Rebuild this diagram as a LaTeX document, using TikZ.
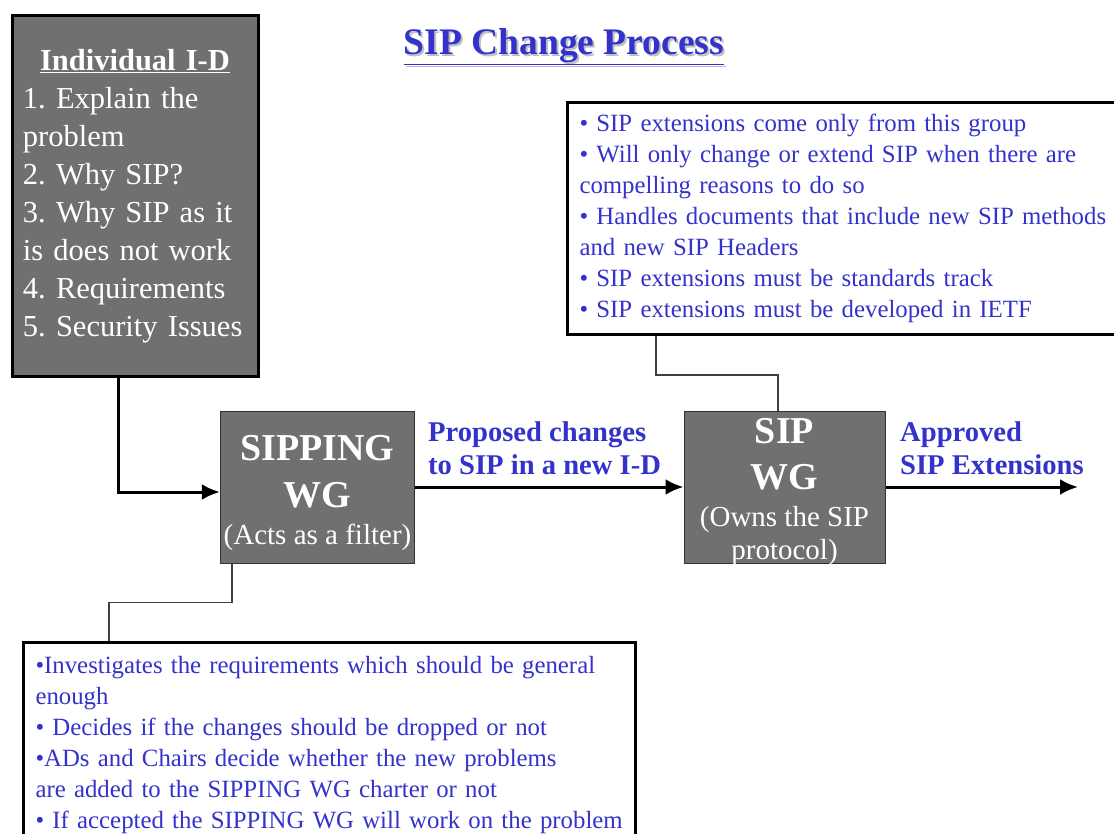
\documentclass[tikz,border=0pt]{standalone}
\usepackage{fontspec}
\setmainfont{Liberation Serif}
\usetikzlibrary{arrows.meta}
\definecolor{boxgray}{RGB}{112,112,112}
\definecolor{sipblue}{RGB}{51,51,204}
\frenchspacing

\begin{document}
\begin{tikzpicture}[x=1pt,y=-1pt,
    wgbox/.style={draw=black!80, line width=1pt, fill=boxgray, text=white,
      minimum height=152pt, align=center, font=\fontsize{29}{33}\selectfont},
    notebox/.style={draw=black, line width=3pt, fill=white, text=sipblue,
      align=left, inner xsep=12pt, font=\fontsize{24.8}{31}\selectfont},
    bluelabel/.style={text=sipblue, align=left, inner sep=0pt,
      font=\fontsize{28.6}{33}\selectfont\bfseries},
    flow/.style={line width=3pt, -{Latex[length=18pt,width=16pt]}},
    link/.style={line width=1.2pt, draw=black!75}]
  \useasboundingbox (0,0) rectangle (1114,834);

  % title
  \node[text=black!25, font=\fontsize{37.5}{40}\selectfont\bfseries] (titleshadow) at (566,49) {\underline{SIP Change Process}};
  \node[text=sipblue, font=\fontsize{37.5}{40}\selectfont\bfseries] (title) at (564,47) {\underline{SIP Change Process}};

  % boxes
  \node[draw=black, line width=3pt, fill=boxgray, text=white, text width=224pt,
    inner xsep=11pt, minimum height=361pt, align=left,
    font=\fontsize{30.5}{38}\selectfont] (idbox) at (135,196)
    {\makebox[224pt]{\bfseries\underline{Individual I-D}}\\
     1. Explain the\\ problem\\ 2. Why SIP?\\ 3. Why SIP as it\\
     is does not work\\ 4. Requirements\\ 5. Security Issues};
  \node[wgbox, minimum width=191pt] (sipping) at (317.5,487)
    {\rule{0pt}{38pt}\bfseries\fontsize{38}{40}\selectfont SIPPING\\[14pt]
     \bfseries\fontsize{38}{40}\selectfont WG\\[4pt] (Acts as a filter)};
  \node[wgbox, minimum width=201pt, inner ysep=0pt, text height=144pt, text depth=0pt] (sipwg) at (784.5,487)
    {\bfseries\fontsize{38}{40}\selectfont SIP\\[13pt]
     \bfseries\fontsize{38}{40}\selectfont WG\\[4pt] (Owns the SIP\\ protocol)};

  % notes
  \node[notebox, text width=544pt, minimum height=232pt, anchor=north west] (sipnote) at (566,101)
    {• SIP extensions come only from this group\\
     • Will only change or extend SIP when there are\\
     compelling reasons to do so\\
     • Handles documents that include new SIP methods\\
     and new SIP Headers\\
     • SIP extensions must be standards track\\
     • SIP extensions must be developed in IETF};
  \node[notebox, text width=588pt, inner ysep=14pt, anchor=north west] (botnote) at (22,641)
    {•Investigates the requirements which should be general\\
     enough\\
     • Decides if the changes should be dropped or not\\
     •ADs and Chairs decide whether the new problems\\
     are added to the SIPPING WG charter or not\\
     • If accepted the SIPPING WG will work on the problem};

  % labels on the flow
  \node[bluelabel, anchor=west] (proposed) at (428,448) {Proposed changes\\ to SIP in a new I-D};
  \node[bluelabel, anchor=west] (approved) at (900,448) {Approved\\ SIP Extensions};
  \coordinate (outend) at (1078,487);

  % connectors
  \draw[flow] ([xshift=-17pt]idbox.south) |- ([yshift=-5pt]sipping.west);
  \draw[flow] (sipping.east) -- (sipwg.west);
  \draw[flow] (sipwg.east) -- (outend);
  \draw[link] ([xshift=90pt]sipnote.south west) -- ++(0,39) -| ([xshift=-6.5pt]sipwg.north);
  \draw[link] ([xshift=-85.5pt]sipping.south) -- ++(0,39) -| ([xshift=87pt]botnote.north west);
\end{tikzpicture}
\end{document}
